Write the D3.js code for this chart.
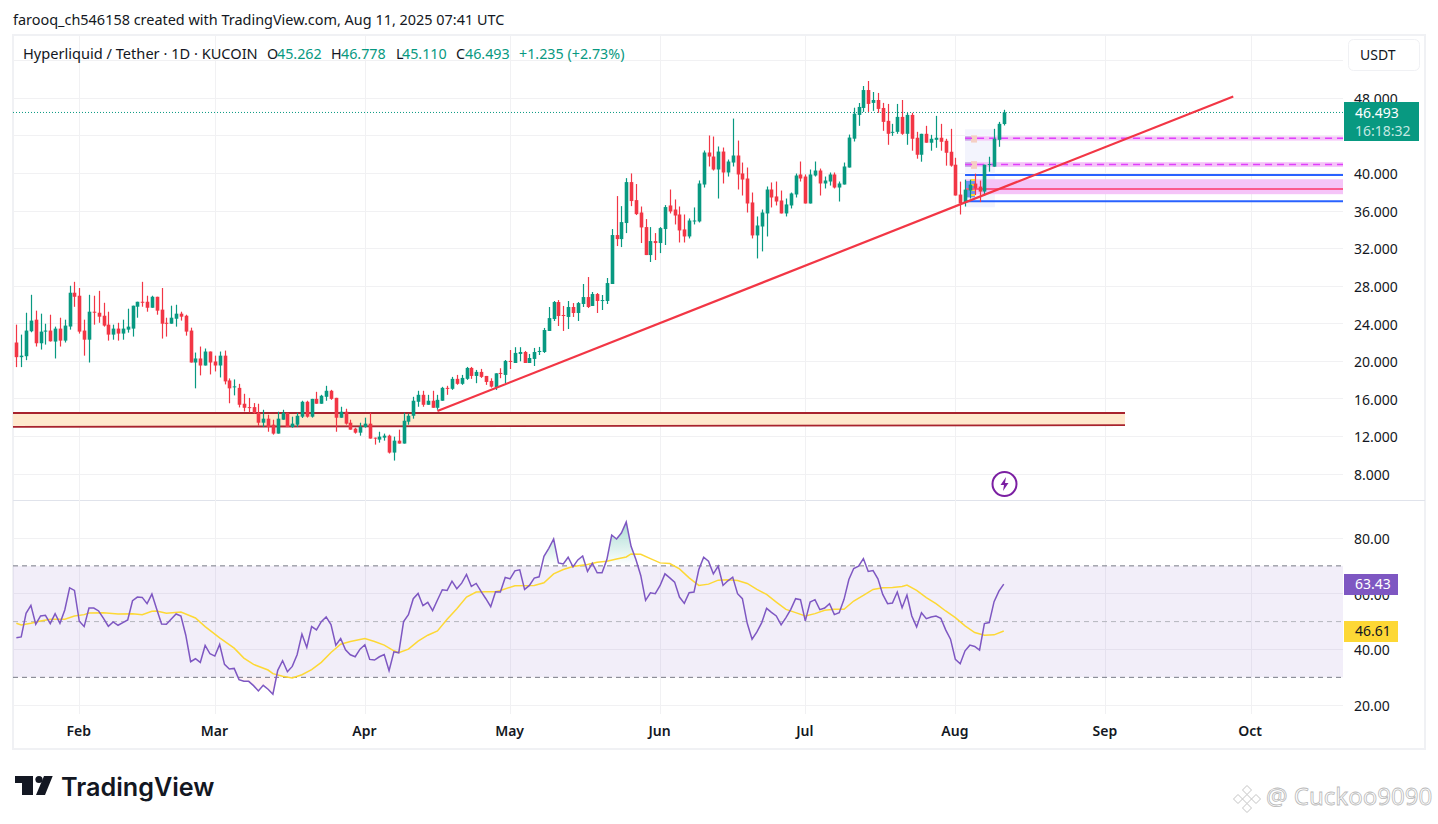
<!DOCTYPE html>
<html>
<head>
<meta charset="utf-8">
<title>HYPE / USDT</title>
<script src="https://cdn.jsdelivr.net/npm/d3@7"></script>
<style>
  html, body { margin: 0; padding: 0; background: #fff; }
  svg { display: block; }
  text { font-family: "Noto Sans", Roboto, sans-serif; fill: #131722; }
  .axis path, .axis line { display: none; }
</style>
</head>
<body>
<div id="chart"></div>
<script>
// daily candles, one value per day from the first date on
var firstDay = Date.UTC(2025, 0, 19);

var opens = [
  22.0,20.44,20.54,23.2,24.43,21.92,23.16,23.27,22.1,23.48,
  22.2,23.7,27.3,26.98,23.27,22.3,25.28,25.17,24.85,23.9,
  22.84,23.48,22.95,23.37,23.48,25.81,26.34,26.34,25.7,26.87,
  25.5,24.1,24.0,24.53,25.07,24.85,23.27,19.87,20.3,19.55,
  21.04,19.98,19.55,20.6,17.96,17.23,17.17,15.48,15.12,15.12,
  14.52,13.46,13.89,13.25,12.3,13.78,14.52,13.0,13.25,14.1,
  15.69,14.1,16.0,15.48,16.22,16.86,16.11,13.99,14.63,13.46,
  12.83,12.4,13.0,13.36,11.87,11.66,11.87,12.08,10.28,11.55,
  11.24,13.57,14.2,15.69,16.43,15.37,15.8,15.05,15.8,17.17,
  17.07,18.13,17.6,18.13,19.29,18.44,18.87,18.44,17.91,17.23,
  18.76,18.55,20.04,19.82,20.78,20.99,19.82,20.25,20.99,20.99,
  23.23,24.5,26.31,24.93,24.72,25.78,25.14,26.1,26.84,25.89,
  27.16,26.42,26.42,28.23,33.44,33.01,34.72,39.08,37.16,35.84,
  34.29,31.31,32.8,32.59,34.08,36.59,36.16,35.63,34.04,33.29,
  34.89,34.89,38.82,42.23,41.8,40.42,42.33,40.1,41.16,41.91,
  40,39.46,36.91,33.4,34.35,35.74,38.29,37.55,37.12,35.74,
  36.59,37.76,39.89,39.67,36.8,39.78,40.31,38.93,39.14,39.89,
  38.5,38.82,40.63,43.7,46.23,46.97,48.88,47.51,47.82,46.97,
  45.6,44.33,44.43,46.02,44.22,46.23,43.8,41.99,44.22,43.27,
  43.58,43.8,43.48,42.31,40.93,37.75,36.9,38.18,38.92,38.6,
  38.07,40.93,40.72,43.58,45.262
];
var highs = [
  23.9,22.84,25.17,27.08,25.39,25.07,24.0,24.96,23.69,24.64,
  24.43,28.04,28.46,27.8,24.43,27.08,26.98,27.5,26.23,25.28,
  23.9,24.1,24.43,25.6,25.92,26.34,28.46,26.98,26.98,26.87,
  27.8,24.64,25.92,26.02,25.28,24.96,23.58,20.93,21.57,21.36,
  21.04,20.6,21.04,21.14,18.18,18.07,17.6,16.54,16.1,15.55,
  15.48,14.84,14.31,13.78,14.63,14.84,14.52,14.1,14.52,15.8,
  15.8,16.0,16.75,16.43,17.39,16.96,16.11,15.16,14.95,13.78,
  12.93,13.46,14.0,14.52,11.87,12.5,12.3,12.19,11.98,12.72,
  14.52,14.42,16.22,16.86,16.86,16.43,16.86,16.43,17.28,17.39,
  18.34,18.55,18.55,19.4,19.4,19.08,19.19,18.44,18.19,18.72,
  19.26,20.14,21.2,21.5,21.5,21.1,20.78,21.42,21.53,23.55,
  25.78,26.42,26.52,25.89,26.42,26.2,26.31,28.23,28.97,27.38,
  27.27,27.06,28.87,34.08,37.59,36.52,39.5,40,38.87,36.48,
  35.14,34.29,33.65,34.29,36.63,38.29,37.23,36.48,35.63,35.21,
  36.38,39.25,42.44,44.04,43.93,42.87,42.76,41.48,45.84,43.5,
  41.16,40.63,37.97,35.42,36.16,38.61,39.04,39.14,38.18,37.33,
  37.97,39.99,41.27,39.89,40.42,41.27,40.52,39.67,40.1,40.1,
  39.14,41.16,44.14,47.0,47.5,49.31,49.84,48.67,48.57,47.51,
  47.4,45.28,47.4,47.82,46.45,46.45,44.43,44.22,45.07,44.11,
  46.13,45.28,43.69,44.75,41.67,39.13,39.34,39.34,39.98,39.24,
  40.93,41.78,44.75,45.49,46.778
];
var lows = [
  19.38,19.38,20.12,23.09,21.57,21.25,21.78,22.1,20.3,21.57,
  22.0,23.37,25.8,22.95,20.6,19.87,23.9,24.1,23.69,22.2,
  22.3,22.2,22.3,23.05,22.63,24.64,25.81,25.28,25.7,24.96,
  22.42,22.63,24.0,23.69,24.33,22.73,19.87,17.12,18.5,19.55,
  18.6,18.92,18.28,17.54,15.53,16.37,15.09,14.66,14.56,14.42,
  13.14,13.0,12.5,12.19,12.3,13.78,13.0,12.93,13.0,13.96,
  14.0,14.0,15.48,15.48,15.8,15.9,12.5,13.99,13.25,12.72,
  12.3,12.08,12.93,11.77,11.13,11.34,11.55,10.18,9.43,11.24,
  11.24,13.25,13.89,15.16,15.16,15.37,15.05,14.84,15.8,16.43,
  16.96,17.5,17.49,18.02,18.13,17.67,18.23,17.49,17.2,16.95,
  18.2,17.66,19.18,19.82,20.0,19.82,19.82,19.5,20.67,20.89,
  23.23,24.29,23.76,23.23,23.44,24.72,24.29,25.78,25.67,25.89,
  25.14,25.46,26.1,28.23,32.27,32.16,33.65,36.52,35.57,32.59,
  31.31,30.57,30.78,31.52,32.38,35.74,34.57,32.65,32.65,33.08,
  34.57,34.78,38.5,40.74,40.31,37.33,38.93,39.67,40.74,38.29,
  37.65,35.84,33.08,30.95,31.7,33.29,36.38,36.59,35.74,35.42,
  36.27,37.44,39.14,36.8,36.8,39.67,37.65,38.4,38.71,38.4,
  37.01,38.82,40.63,43.4,45.07,46.55,46.55,46.66,46.45,44.54,
  43.05,44.0,44.22,44.11,43.05,42.42,41.57,41.25,43.27,42.42,
  42.73,42.42,40.83,40.72,37.65,35.63,36.48,37.33,37.7,36.95,
  37.65,40.19,40.72,42.84,45.11
];
var closes = [
  20.44,20.6,23.27,24.33,21.92,23.16,23.27,22.13,23.48,22.2,
  23.8,27.3,26.87,23.16,22.3,25.28,25.17,24.75,23.8,22.84,
  23.48,22.95,23.48,23.69,25.92,26.34,26.23,25.7,26.87,25.39,
  24.0,24.0,24.64,25.07,24.75,23.16,19.87,20.3,19.55,21.04,
  19.87,19.55,20.6,17.86,17.12,17.33,15.37,15.05,15.05,14.49,
  13.46,13.89,13.0,12.3,13.89,14.52,13.0,13.36,14.2,15.69,
  14.1,16.0,15.48,16.33,16.86,16.0,13.99,14.63,13.36,12.72,
  12.4,13.04,13.36,11.77,11.77,11.98,12.08,10.28,11.55,11.24,
  13.67,14.2,15.8,16.43,15.37,15.8,15.05,15.9,17.17,17.07,
  18.13,17.6,18.23,19.29,18.44,18.87,18.34,17.8,17.3,18.72,
  18.65,20.04,19.93,20.89,20.99,19.82,20.35,20.99,21.1,23.33,
  24.6,26.31,24.82,24.82,25.78,25.14,26.2,26.84,25.78,27.16,
  26.42,26.52,28.33,33.44,33.01,34.82,39.08,37.06,35.67,34.25,
  31.31,32.8,32.59,34.18,36.42,35.95,35.52,33.93,33.29,34.99,
  34.99,38.93,42.23,41.8,40.42,42.33,40.1,41.27,41.91,39.89,
  39.35,36.8,33.4,34.46,35.84,38.29,37.44,37.01,35.74,36.7,
  37.87,39.78,39.46,36.8,39.89,40.31,38.93,39.25,39.89,38.5,
  38.93,40.74,43.82,46.36,47.08,48.88,47.4,47.82,46.87,45.49,
  44.22,44.43,46.02,44.22,46.23,43.69,41.99,44.22,43.27,43.69,
  43.8,43.37,42.2,40.83,37.65,36.8,38.28,38.81,38.39,38.07,
  40.93,41.0,43.69,45.28,46.493
];

var rsiValues = [
  44.17,44.52,52.98,55.83,49.05,52.02,52.26,49.29,52.86,49.4,
  54.17,62.14,61.19,50.12,48.21,54.88,54.88,53.81,51.19,48.33,
  49.88,48.69,49.64,50.6,57.5,58.81,58.69,56.43,59.88,54.4,
  49.17,49.05,50.95,52.74,52.02,45.12,35.6,36.67,35.36,41.43,
  38.45,37.62,41.79,34.64,32.98,33.21,29.17,28.57,28.57,27.02,
  25.12,27.14,25.71,23.93,32.5,35.95,32.02,33.93,38.1,45.48,
  40.71,48.21,47.02,50,51.67,48.93,41.55,43.93,39.88,38.1,
  37.38,40.12,41.67,36.43,36.19,37.38,38.21,32.38,39.17,38.81,
  50,52.5,58.21,60.12,55.71,56.9,53.93,57.74,61.43,61.19,
  64.52,61.79,63.81,66.9,62.62,63.69,60.83,58.21,55.36,60.71,
  60.6,65.83,65.36,68.21,68.57,61.55,62.98,65.6,66.07,73.45,
  76.31,79.64,71.07,70.71,73.1,69.64,72.14,73.57,67.98,70.95,
  67.5,67.5,72.26,81.07,79.64,81.79,85.71,77.02,72.26,66.55,
  57.62,60.36,60,62.98,67.14,65.71,64.17,58.81,56.55,60.36,
  60.6,68.69,73.1,71.67,67.14,69.88,62.98,64.64,65.95,60,
  58.21,49.4,43.69,46.31,49.64,54.76,53.33,52.02,48.81,51.43,
  54.4,58.21,57.86,50.24,57.02,57.86,54.29,54.88,56.43,52.5,
  53.21,57.98,65.12,69.05,69.88,72.62,67.98,68.33,65.36,59.76,
  56.43,56.67,60.6,55,59.52,52.02,48.1,53.21,51.07,51.67,
  52.02,51.19,47.02,43.69,36.43,34.88,39.52,41.55,41.07,39.76,
  49.29,49.64,57.14,60.95,63.43
];

// the yellow average, read at the days listed in rsiMaDays
var rsiMaDays = [
  0,1,3,5,7,10,12,14,15,18,21,24,26,28,29,31,34,37,39,42,45,47,49,52,53,55,57,59,61,63,
  65,67,69,71,72,74,76,78,79,81,83,85,87,89,91,93,95,97,99,100,103,107,109,111,113,115,
  118,120,122,124,126,127,129,131,133,135,137,139,141,143,145,147,149,151,153,155,157,
  159,161,163,165,167,169,171,173,175,177,179,181,183,184,186,188,190,192,194,196,198,
  200,202,204
];
var rsiMa = [
  49.4,48.81,49.4,50.24,50.83,50.83,52.02,52.5,53.1,53.21,52.74,52.86,52.5,53.69,53.81,52.98,53.45,51.31,48.21,44.17,40.48,36.9,34.64,32.62,31.31,30.36,29.76,30.95,32.74,35.36,
  38.93,41.9,42.86,43.57,43.93,42.86,41.55,39.52,38.81,40.12,42.98,45.12,46.67,50.83,54.64,58.81,60.6,60.71,60.71,61.19,62.86,62.98,63.93,67.14,68.69,69.76,
  70.48,71.31,71.67,72.5,73.21,74.29,74.17,72.62,71.07,70.83,68.93,65.71,62.98,63.45,64.88,65,64.76,63.69,61.55,59.76,57.02,
  54.4,53.21,52.02,52.86,54.05,54.4,54.4,57.38,59.4,61.55,62.14,62.26,62.62,63.1,61.19,58.57,56.43,53.81,51.43,48.45,46.07,
  45.12,45.24,46.61
];

// 44 sits under the last price tag in the picture, so it gets a grid line only
var priceTicks = [8, 12, 16, 20, 24, 28, 32, 36, 40, 48];
var priceGrid = [8, 12, 16, 20, 24, 28, 32, 36, 40, 44, 48, 52];
var rsiTicks = [20, 40, 60, 80];
var monthTicks = [1, 2, 3, 4, 5, 6, 7, 8, 9].map(m => new Date(Date.UTC(2025, m, 1)));

// drawings, in price and date
var supportZone = [14.49, 13.12];
var supportBottomLine = [13.02, 13.2];
var trendDates = [new Date(Date.UTC(2025, 3, 16)), new Date(Date.UTC(2025, 8, 27, 10))];
var trendPrices = [14.7, 48.2];
var zoneStart = new Date(Date.UTC(2025, 7, 3));
var zoneBoxEnd = new Date(Date.UTC(2025, 7, 9, 4));
var zoneBox = [44.7, 36.4];
var pinkBands = [[43.95, 43.5], [41.2, 40.7], [39.38, 37.79]];
var pinkMids = [43.74, 40.95];
var pinkSolid = 38.35;
var blueLines = [39.83, 37.05];
var lastPrice = 46.493;

var width = 1438, height = 824;
var plotLeft = 13, plotRight = 1343, plotTop = 36, plotBottom = 714;

var svg = d3.select("#chart").append("svg")
  .attr("width", width)
  .attr("height", height);

var xScale = d3.scaleUtc()
  .domain([new Date(Date.UTC(2025, 1, 1)), new Date(Date.UTC(2025, 9, 1))])
  .range([79.3, 1250.6]);
var yPrice = d3.scaleLinear().domain([8, 48]).range([474, 98.3]);
var yRsi = d3.scaleLinear().domain([20, 80]).range([705.2, 538]);

var dayDate = i => new Date(firstDay + i * 864e5);
var dayX = i => Math.round(xScale(dayDate(i)));

// frame and header
svg.append("rect")
  .attr("x", 13).attr("y", 35)
  .attr("width", 1412).attr("height", 714)
  .attr("fill", "none").attr("stroke", "#f0f1f4").attr("stroke-width", 2);
svg.append("line")
  .attr("x1", 13).attr("x2", 1425).attr("y1", 500.5).attr("y2", 500.5)
  .attr("stroke", "#e0e3eb").attr("stroke-width", 1);

svg.append("text").attr("x", 13).attr("y", 25)
  .attr("font-size", 14.45)
  .text("farooq_ch546158 created with TradingView.com, Aug 11, 2025 07:41 UTC");

// grid
var grid = svg.append("g").attr("stroke", "#f1f1f3").attr("stroke-width", 1).attr("shape-rendering", "crispEdges");
grid.selectAll(".vg").data(monthTicks).enter().append("line")
  .attr("class", "vg")
  .attr("x1", d => Math.round(xScale(d))).attr("x2", d => Math.round(xScale(d)))
  .attr("y1", plotTop).attr("y2", plotBottom);
grid.selectAll(".pg").data(priceGrid).enter().append("line")
  .attr("class", "pg")
  .attr("x1", plotLeft).attr("x2", plotRight)
  .attr("y1", d => yPrice(d)).attr("y2", d => yPrice(d));
grid.selectAll(".rg").data(rsiTicks).enter().append("line")
  .attr("class", "rg")
  .attr("x1", plotLeft).attr("x2", plotRight)
  .attr("y1", d => yRsi(d)).attr("y2", d => yRsi(d));

// support zone
var zoneEndX = 1125;
svg.append("rect")
  .attr("x", plotLeft).attr("width", zoneEndX - plotLeft)
  .attr("y", yPrice(supportZone[0]))
  .attr("height", yPrice(supportZone[1]) - yPrice(supportZone[0]))
  .attr("fill", "#ffe9cd");
svg.append("line")
  .attr("x1", plotLeft).attr("x2", zoneEndX)
  .attr("y1", yPrice(supportZone[0])).attr("y2", yPrice(supportZone[0]))
  .attr("stroke", "#a8232e").attr("stroke-width", 2);
svg.append("line")
  .attr("x1", plotLeft).attr("x2", zoneEndX)
  .attr("y1", yPrice(supportBottomLine[0])).attr("y2", yPrice(supportBottomLine[1]))
  .attr("stroke", "#a8232e").attr("stroke-width", 1.8);

// zones around the August low
var zx = xScale(zoneStart), zx2 = xScale(zoneBoxEnd);
svg.append("rect")
  .attr("x", zx).attr("width", zx2 - zx)
  .attr("y", yPrice(zoneBox[0])).attr("height", yPrice(zoneBox[1]) - yPrice(zoneBox[0]))
  .attr("fill", "#f3f4fd");
svg.selectAll(".pink").data(pinkBands).enter().append("rect")
  .attr("class", "pink")
  .attr("x", zx).attr("width", plotRight - zx)
  .attr("y", d => yPrice(d[0]))
  .attr("height", d => yPrice(d[1]) - yPrice(d[0]))
  .attr("fill", "#f5c4f8");
svg.selectAll(".pinkStub").data(pinkBands.slice(0, 2)).enter().append("rect")
  .attr("class", "pinkStub")
  .attr("x", zx).attr("width", 6)
  .attr("y", d => yPrice(d[0]))
  .attr("height", d => yPrice(d[1]) - yPrice(d[0]))
  .attr("fill", "#c7a8e6");
svg.selectAll(".tan").data(pinkBands.slice(0, 2)).enter().append("rect")
  .attr("class", "tan")
  .attr("x", zx + 6).attr("width", 6)
  .attr("y", d => yPrice(d[0]) - 1)
  .attr("height", d => yPrice(d[1]) - yPrice(d[0]) + 3)
  .attr("fill", "#f5cfc4");
svg.selectAll(".pinkMid").data(pinkMids).enter().append("line")
  .attr("class", "pinkMid")
  .attr("x1", zx).attr("x2", plotRight)
  .attr("y1", d => yPrice(d)).attr("y2", d => yPrice(d))
  .attr("stroke", "#e040fb").attr("stroke-width", 1.5)
  .attr("stroke-dasharray", "7 5");
svg.append("rect")
  .attr("x", zx).attr("width", 10)
  .attr("y", yPrice(39.2)).attr("height", yPrice(37.45) - yPrice(39.2))
  .attr("fill", "#6f93f0");
svg.append("line")
  .attr("x1", zx + 8).attr("x2", zx + 8)
  .attr("y1", yPrice(39.4)).attr("y2", yPrice(37.3))
  .attr("stroke", "#fdd835").attr("stroke-width", 4)
  .attr("stroke-dasharray", "2 3");
svg.append("line")
  .attr("x1", zx).attr("x2", plotRight)
  .attr("y1", yPrice(pinkSolid)).attr("y2", yPrice(pinkSolid))
  .attr("stroke", "#fb5a8e").attr("stroke-width", 2);
svg.selectAll(".blue").data(blueLines).enter().append("line")
  .attr("class", "blue")
  .attr("x1", zx).attr("x2", plotRight)
  .attr("y1", d => yPrice(d)).attr("y2", d => yPrice(d))
  .attr("stroke", "#2962ff").attr("stroke-width", 2);

// last price line
svg.append("line")
  .attr("x1", plotLeft).attr("x2", plotRight)
  .attr("y1", yPrice(lastPrice)).attr("y2", yPrice(lastPrice))
  .attr("stroke", "#089981").attr("stroke-width", 1)
  .attr("stroke-dasharray", "1 2");

// candles
var colorOf = i => closes[i] >= opens[i] ? "#089981" : "#f23645";
var candles = svg.append("g").selectAll("g").data(d3.range(opens.length)).enter().append("g");
candles.append("line")
  .attr("x1", i => dayX(i) + 0.5).attr("x2", i => dayX(i) + 0.5)
  .attr("y1", i => yPrice(highs[i])).attr("y2", i => yPrice(lows[i]))
  .attr("stroke", colorOf).attr("stroke-width", 1.2);
candles.append("rect")
  .attr("x", i => dayX(i) - 1.3)
  .attr("width", 3.6)
  .attr("y", i => yPrice(Math.max(opens[i], closes[i])))
  .attr("height", i => Math.max(1, Math.abs(yPrice(opens[i]) - yPrice(closes[i]))))
  .attr("fill", colorOf);

// trend line
svg.append("line")
  .attr("x1", xScale(trendDates[0])).attr("x2", xScale(trendDates[1]))
  .attr("y1", yPrice(trendPrices[0])).attr("y2", yPrice(trendPrices[1]))
  .attr("stroke", "#f23645").attr("stroke-width", 2.2);

// bolt marker
var bolt = svg.append("g").attr("transform", "translate(1004.5,484)");
bolt.append("circle").attr("r", 12).attr("fill", "#fff").attr("stroke", "#7b1fa2").attr("stroke-width", 2);
bolt.append("path").attr("d", "M1.5,-7 L-4,1 L-0.5,1 L-1.5,7 L4,-1 L0.5,-1 Z").attr("fill", "#7b1fa2");

// RSI band
svg.append("rect")
  .attr("x", plotLeft).attr("width", plotRight - plotLeft)
  .attr("y", yRsi(70)).attr("height", yRsi(30) - yRsi(70))
  .attr("fill", "#7e57c2").attr("fill-opacity", 0.1);
var levels = [[70, "#787b86"], [50, "#b4b6bd"], [30, "#787b86"]];
svg.selectAll(".lvl").data(levels).enter().append("line")
  .attr("class", "lvl")
  .attr("x1", plotLeft).attr("x2", plotRight)
  .attr("y1", d => yRsi(d[0])).attr("y2", d => yRsi(d[0]))
  .attr("stroke", d => d[1]).attr("stroke-width", 1)
  .attr("stroke-dasharray", "5 4");

// RSI fills beyond the 70 and 30 levels
var defs = svg.append("defs");
var greenGrad = defs.append("linearGradient").attr("id", "obGrad")
  .attr("gradientUnits", "userSpaceOnUse")
  .attr("x1", 0).attr("x2", 0).attr("y1", yRsi(86)).attr("y2", yRsi(70));
greenGrad.append("stop").attr("offset", 0).attr("stop-color", "#089981").attr("stop-opacity", 0.35);
greenGrad.append("stop").attr("offset", 1).attr("stop-color", "#089981").attr("stop-opacity", 0);
defs.append("clipPath").attr("id", "obClip").append("rect")
  .attr("x", plotLeft).attr("y", plotTop).attr("width", plotRight - plotLeft).attr("height", yRsi(70) - plotTop);
defs.append("clipPath").attr("id", "osClip").append("rect")
  .attr("x", plotLeft).attr("y", yRsi(30)).attr("width", plotRight - plotLeft).attr("height", plotBottom - yRsi(30));

var rsiX = (d, i) => xScale(dayDate(i));
svg.append("path").datum(rsiValues)
  .attr("clip-path", "url(#obClip)")
  .attr("fill", "url(#obGrad)")
  .attr("d", d3.area().x(rsiX).y0(yRsi(70)).y1(d => yRsi(d)));
svg.append("path").datum(rsiValues)
  .attr("clip-path", "url(#osClip)")
  .attr("fill", "#f23645").attr("fill-opacity", 0.06)
  .attr("d", d3.area().x(rsiX).y0(yRsi(30)).y1(d => yRsi(d)));

// RSI average and RSI lines
svg.append("path").datum(rsiMaDays)
  .attr("fill", "none").attr("stroke", "#fdd835").attr("stroke-width", 1.5)
  .attr("d", d3.line().x(d => xScale(dayDate(d))).y((d, i) => yRsi(rsiMa[i])));
svg.append("path").datum(rsiValues)
  .attr("fill", "none").attr("stroke", "#7e57c2").attr("stroke-width", 1.5)
  .attr("d", d3.line().x(rsiX).y(d => yRsi(d)));

// axes
var priceAxis = svg.append("g").attr("class", "axis")
  .attr("transform", "translate(1354,0.8)")
  .call(d3.axisRight(yPrice).tickValues(priceTicks).tickFormat(d3.format(".3f")).tickSize(0).tickPadding(0));
var rsiAxis = svg.append("g").attr("class", "axis")
  .attr("transform", "translate(1354,0.8)")
  .call(d3.axisRight(yRsi).tickValues(rsiTicks).tickFormat(d3.format(".2f")).tickSize(0).tickPadding(0));
svg.selectAll(".axis text").attr("font-size", 14).attr("font-family", null);

var timeAxis = svg.append("g").attr("class", "axis")
  .attr("transform", "translate(-1,726)")
  .call(d3.axisBottom(xScale).tickValues(monthTicks).tickFormat(d3.utcFormat("%b")).tickSize(0).tickPadding(0));
timeAxis.selectAll("text").attr("font-size", 14).attr("font-weight", 600).attr("dy", "0.71em");

// price scale tags
svg.append("rect").attr("x", 1348.5).attr("y", 39.5).attr("width", 71).attr("height", 31).attr("rx", 5)
  .attr("fill", "#fff").attr("stroke", "#f0f1f4").attr("stroke-width", 1);
svg.append("text").attr("x", 1360).attr("y", 60).attr("font-size", 14).text("USDT");

svg.append("rect").attr("x", 1344).attr("y", 102).attr("width", 75).attr("height", 39).attr("fill", "#089981");
svg.append("text").attr("x", 1355).attr("y", 118).attr("font-size", 14).style("fill", "#fff").text("46.493");
svg.append("text").attr("x", 1355).attr("y", 136).attr("font-size", 14).style("fill", "#c4e8e1").text("16:18:32");

svg.append("rect").attr("x", 1344).attr("y", 574).attr("width", 54).attr("height", 21).attr("fill", "#7e57c2");
svg.append("text").attr("x", 1355).attr("y", 589).attr("font-size", 14).style("fill", "#fff").text("63.43");
svg.append("rect").attr("x", 1344).attr("y", 621).attr("width", 54).attr("height", 21).attr("fill", "#fdd835");
svg.append("text").attr("x", 1355).attr("y", 636).attr("font-size", 14).text("46.61");

// legend line
var legendParts = [
  ["Hyperliquid / Tether · 1D · KUCOIN", "#131722", 23, 14.6],
  ["O", "#131722", 267, 14.3], ["45.262", "#089981", 277, 14.3],
  ["H", "#131722", 331, 14.3], ["46.778", "#089981", 341, 14.3],
  ["L", "#131722", 396, 14.3], ["45.110", "#089981", 402, 14.3],
  ["C", "#131722", 456, 14.3], ["46.493", "#089981", 465, 14.3],
  ["+1.235 (+2.73%)", "#089981", 519, 14.3]
];
svg.selectAll(".legend").data(legendParts).enter().append("text")
  .attr("class", "legend")
  .attr("x", d => d[2]).attr("y", 59)
  .attr("font-size", d => d[3])
  .style("fill", d => d[1])
  .text(d => d[0]);

// logo
var logo = svg.append("g").attr("fill", "#131722");
logo.append("path").attr("d", "M15,776 H33 V795 H22 V783 H15 Z");
logo.append("circle").attr("cx", 39).attr("cy", 779.5).attr("r", 3.6);
logo.append("path").attr("d", "M44,776 H52.7 L45,795 H36 Z");
svg.append("text").attr("x", 61).attr("y", 796)
  .attr("font-size", 25.2).attr("font-weight", 600)
  .style("font-family", "Inter, sans-serif")
  .text("TradingView");

// watermark
var mark = svg.append("g").attr("transform", "translate(1247,799)")
  .attr("fill", "#fff").attr("stroke", "#c4c4c4").attr("stroke-width", 1);
[[0, -9], [-9, 0], [9, 0], [0, 9], [0, 0]].forEach(function(p) {
  mark.append("path").attr("d", `M${p[0]},${p[1] - 4.5} l4.5,4.5 l-4.5,4.5 l-4.5,-4.5 Z`);
});
svg.append("text").attr("x", 1266).attr("y", 805)
  .attr("font-size", 24)
  .style("fill", "#fff").style("stroke", "#b9b9b9").style("stroke-width", 0.8)
  .text("@ Cuckoo9090");
</script>
</body>
</html>
